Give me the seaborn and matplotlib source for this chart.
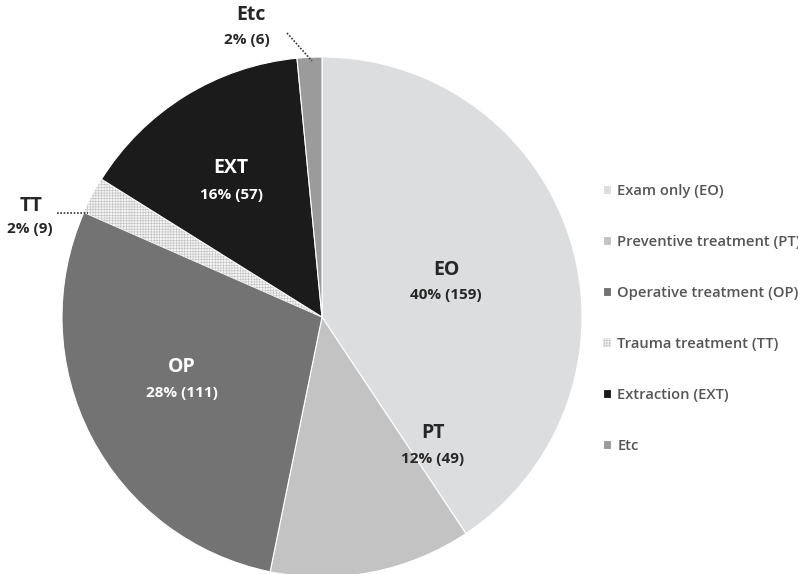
import numpy as np
import seaborn as sns
from matplotlib import pyplot as plt

# datos
categorias = ["EO", "PT", "OP", "TT", "EXT", "Etc"]
nombres_leyenda = ["Exam only (EO)", "Preventive treatment (PT)", "Operative treatment (OP)",
                   "Trauma treatment (TT)", "Extraction (EXT)", "Etc"]
conteos = [159, 49, 111, 9, 57, 6]
porcentajes = [40, 12, 28, 2, 16, 2]
colores = ["#dcdddf", "#c3c3c3", "#737373", "#f4f4f4", "#1b1b1b", "#9b9b9b"]

sns.set_theme(style="white")
plt.rcParams['font.family'] = ['Open Sans', 'DejaVu Sans']
plt.rcParams['hatch.linewidth'] = 0.4

fig = plt.figure(figsize=(7.98, 5.74), dpi=100)
W, H = 798, 574
cx, cy, r = 322, 317, 260
ax = fig.add_axes([(cx - r) / W, (H - cy - r) / H, 2 * r / W, 2 * r / H])

wedges, _ = ax.pie(conteos, colors=colores, startangle=90, counterclock=False,
                   wedgeprops=dict(edgecolor="white", linewidth=0.8))
ax.set_xlim(-1, 1)
ax.set_ylim(-1, 1)
ax.set_aspect("equal")
ax.axis("off")

# trama fina para TT
tt = wedges[categorias.index("TT")]
tt.set_hatch("++++++")
tt.set_edgecolor("#c0c0c0")
tt.set_linewidth(0)

# posiciones de las etiquetas en pixeles (nombre y porcentaje)
pos_etiquetas = {"EO": (446, 270, 446, 295), "PT": (433, 433, 433, 459),
                 "OP": (182, 367, 182, 393), "EXT": (231, 168, 232, 195),
                 "TT": (31, 206, 30, 229), "Etc": (251, 15, 247, 40)}
blancas = {"OP", "EXT"}
for cat, n, p in zip(categorias, conteos, porcentajes):
    x1, y1, x2, y2 = pos_etiquetas[cat]
    col = "white" if cat in blancas else "#262626"
    fig.text(x1 / W, 1 - y1 / H, cat, ha="center", va="center", fontsize=14,
             fontweight="bold", color=col)
    fig.text(x2 / W, 1 - y2 / H, f"{p}% ({n})", ha="center", va="center", fontsize=11,
             fontweight="bold", color=col)

# lineas punteadas de guia
guias = [((57, 88), (213, 213)), ((287, 312), (33, 61))]
for xs, ys in guias:
    ax.plot([(x - cx) / r for x in xs], [(cy - y) / r for y in ys], ls=(0, (1, 1)),
            color="#333333", lw=1.2, clip_on=False)

leg = fig.legend(wedges, nombres_leyenda, loc="upper left",
                 bbox_to_anchor=(603 / W, 1 - 184 / H), frameon=False, borderpad=0,
                 borderaxespad=0, fontsize=10.6, labelspacing=2.51, handlelength=0.55,
                 handleheight=0.55, handletextpad=0.41, labelcolor="#555555")
for t in leg.get_texts():
    t.set_fontweight("semibold")

fig.savefig("out.png", dpi=100)
